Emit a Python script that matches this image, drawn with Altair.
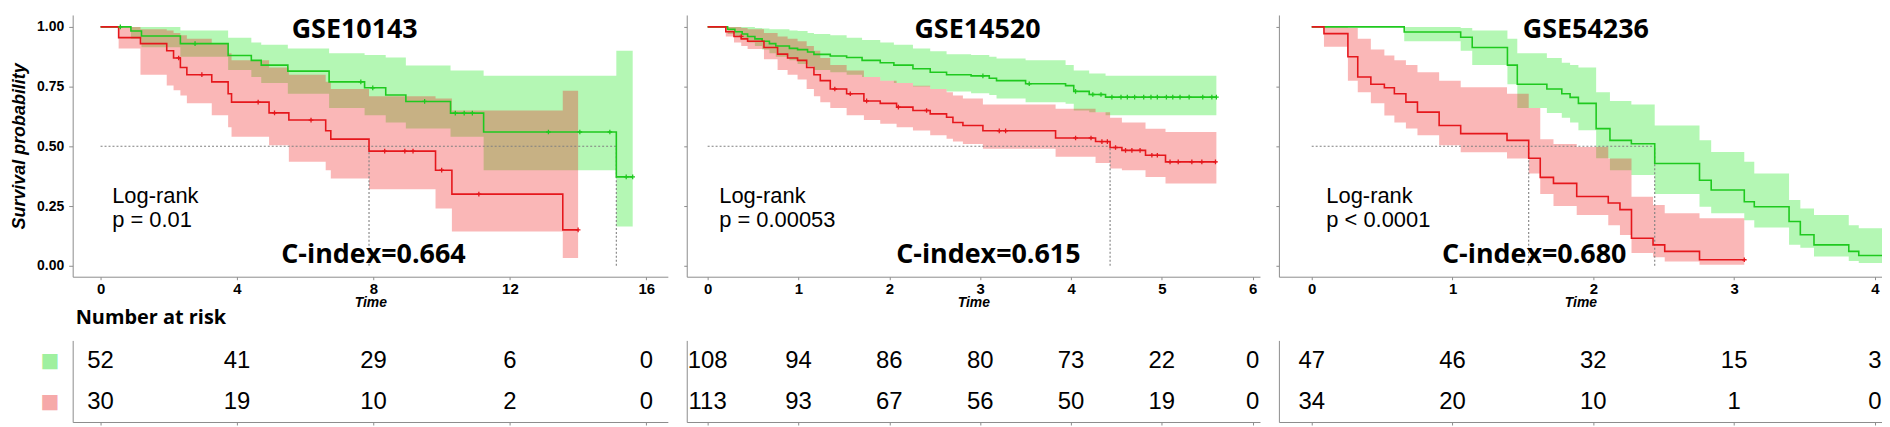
import altair as alt
import pandas as pd

# ---------------- colours ----------------
GREEN_LINE = "#1fc91f"
GREEN_FILL = "#2ee82e"
RED_LINE = "#e5171c"
RED_FILL = "#f02020"
DOT = "#808080"
AXIS = "#8c8c8c"

# ---------------- GSE10143 ----------------
P1_G_T = [0, 0.89, 1.2, 2.34, 3.74, 4.42, 4.71, 5.49, 6.7, 7.74, 8.36, 8.95, 10.26, 11.23, 15.12, 15.6]
P1_G_S = [1.0, 0.983, 0.962, 0.93, 0.88, 0.86, 0.84, 0.815, 0.77, 0.745, 0.715, 0.688, 0.639, 0.56, 0.372, 0.372]
P1_G_UP = [1.0, 1.0, 1.0, 0.985, 0.955, 0.935, 0.925, 0.91, 0.89, 0.882, 0.872, 0.838, 0.817, 0.796, 0.90, 0.90]
P1_G_LO = [1.0, 0.95, 0.915, 0.875, 0.82, 0.79, 0.765, 0.72, 0.66, 0.63, 0.60, 0.575, 0.54, 0.40, 0.164, 0.164]
P1_R_T = [0, 0.53, 1.17, 1.94, 2.14, 2.34, 2.53, 3.26, 3.74, 3.84, 4.94, 5.52, 6.6, 6.75, 7.87, 9.82, 10.3, 13.55, 14.0]
P1_R_S = [1.0, 0.955, 0.93, 0.90, 0.87, 0.83, 0.80, 0.77, 0.72, 0.685, 0.64, 0.61, 0.565, 0.53, 0.48, 0.40, 0.30, 0.15, 0.15]
P1_R_UP = [1.0, 1.0, 0.99, 0.985, 0.975, 0.965, 0.95, 0.93, 0.89, 0.86, 0.83, 0.80, 0.77, 0.74, 0.71, 0.70, 0.65, 0.733, 0.733]
P1_R_LO = [1.0, 0.91, 0.80, 0.755, 0.735, 0.713, 0.68, 0.63, 0.58, 0.54, 0.505, 0.435, 0.40, 0.365, 0.32, 0.24, 0.143, 0.032, 0.032]
P1_G_CX = [0.58, 2.77, 7.63, 7.98, 9.5, 10.4, 10.66, 10.9, 13.13, 14.05, 14.93, 15.41, 15.6]
P1_G_CY = [1.0, 0.93, 0.77, 0.745, 0.688, 0.639, 0.639, 0.639, 0.56, 0.56, 0.56, 0.372, 0.372]
P1_R_CX = [2.29, 2.97, 4.62, 5.1, 6.17, 8.33, 8.92, 9.16, 10.0, 11.09, 14.0]
P1_R_CY = [0.87, 0.80, 0.685, 0.64, 0.61, 0.48, 0.48, 0.48, 0.40, 0.30, 0.15]
P1_MEDIANS = [7.87, 15.12]
P1_TICKS = [0, 4, 8, 12, 16]
P1_RISK_G = [52, 41, 29, 6, 0]
P1_RISK_R = [30, 19, 10, 2, 0]

# ---------------- GSE14520 ----------------
P2_G_T = [0, 0.22, 0.30, 0.38, 0.44, 0.52, 0.60, 0.68, 0.75, 0.90, 0.99, 1.10, 1.17, 1.35, 1.53,
          1.70, 1.90, 2.05, 2.26, 2.45, 2.63, 2.90, 3.10, 3.18, 3.50, 3.94, 4.03, 4.20, 4.38, 5.6]
P2_G_S = [1.0, 0.99, 0.98, 0.97, 0.96, 0.95, 0.94, 0.93, 0.92, 0.91, 0.905, 0.895, 0.885, 0.878, 0.872,
          0.86, 0.85, 0.84, 0.825, 0.81, 0.80, 0.795, 0.785, 0.775, 0.762, 0.754, 0.73, 0.717, 0.706, 0.706]
P2_G_UP = [1.0, 1.0, 1.0, 1.0, 1.0, 0.995, 0.993, 0.99, 0.99, 0.985, 0.983, 0.975, 0.97, 0.965, 0.955,
           0.945, 0.935, 0.925, 0.91, 0.898, 0.886, 0.882, 0.875, 0.868, 0.86, 0.84, 0.817, 0.805, 0.796, 0.796]
P2_G_LO = [1.0, 0.97, 0.96, 0.95, 0.935, 0.92, 0.905, 0.89, 0.875, 0.86, 0.845, 0.835, 0.82, 0.81, 0.80,
           0.79, 0.775, 0.765, 0.75, 0.74, 0.73, 0.722, 0.715, 0.70, 0.685, 0.678, 0.65, 0.643, 0.63, 0.63]
P2_R_T = [0, 0.2, 0.29, 0.37, 0.44, 0.62, 0.77, 0.88, 0.99, 1.09, 1.17, 1.24, 1.35, 1.53, 1.72, 1.9,
          2.08, 2.26, 2.45, 2.63, 2.7, 2.81, 3.03, 3.83, 4.27, 4.43, 4.56, 4.82, 5.04, 5.6]
P2_R_S = [1.0, 0.98, 0.96, 0.95, 0.94, 0.914, 0.886, 0.87, 0.86, 0.83, 0.80, 0.775, 0.74, 0.72, 0.69, 0.68,
          0.664, 0.65, 0.636, 0.622, 0.60, 0.587, 0.565, 0.535, 0.52, 0.495, 0.483, 0.4625, 0.435, 0.435]
P2_R_UP = [1.0, 1.0, 1.0, 0.995, 0.99, 0.975, 0.96, 0.95, 0.94, 0.92, 0.90, 0.87, 0.84, 0.817, 0.79, 0.775,
           0.765, 0.754, 0.74, 0.726, 0.713, 0.70, 0.675, 0.657, 0.643, 0.62, 0.60, 0.574, 0.56, 0.56]
P2_R_LO = [1.0, 0.96, 0.935, 0.92, 0.907, 0.865, 0.82, 0.80, 0.78, 0.74, 0.71, 0.685, 0.66, 0.63, 0.61, 0.594,
           0.58, 0.566, 0.546, 0.532, 0.52, 0.51, 0.49, 0.456, 0.43, 0.407, 0.40, 0.372, 0.344, 0.344]
P2_G_CX = [3.03, 3.54, 4.05, 4.24, 4.33, 4.45, 4.55, 4.62, 4.70, 4.80, 4.88, 4.95, 5.05, 5.12, 5.20, 5.30, 5.45, 5.55, 5.60]
P2_G_CY = [0.795, 0.762, 0.73, 0.717, 0.717, 0.706, 0.706, 0.706, 0.706, 0.706, 0.706, 0.706, 0.706, 0.706,
           0.706, 0.706, 0.706, 0.706, 0.706]
P2_R_CX = [0.37, 1.40, 1.57, 1.75, 2.10, 2.41, 3.21, 3.28, 4.05, 4.22, 4.34, 4.40, 4.49, 4.60, 4.67, 4.76,
           4.89, 4.95, 5.09, 5.18, 5.33, 5.44, 5.59]
P2_R_CY = [0.96, 0.74, 0.72, 0.69, 0.664, 0.65, 0.565, 0.565, 0.535, 0.535, 0.52, 0.52, 0.495, 0.483, 0.483,
           0.483, 0.4625, 0.4625, 0.435, 0.435, 0.435, 0.435, 0.435]
P2_MEDIANS = [4.43]
P2_TICKS = [0, 1, 2, 3, 4, 5, 6]
P2_RISK_G = [108, 94, 86, 80, 73, 22, 0]
P2_RISK_R = [113, 93, 67, 56, 50, 19, 0]

# ---------------- GSE54236 ----------------
P3_G_T = [0, 0.657, 1.058, 1.14, 1.39, 1.46, 1.67, 1.776, 1.835, 1.894, 2.02, 2.118, 2.27, 2.436, 2.754,
          2.837, 3.072, 3.143, 3.39, 3.47, 3.567, 3.814, 3.885, 4.1]
P3_G_S = [1.0, 0.979, 0.957, 0.914, 0.84, 0.76, 0.74, 0.72, 0.705, 0.68, 0.574, 0.525, 0.511, 0.428, 0.358,
          0.317, 0.268, 0.247, 0.185, 0.13, 0.0875, 0.06, 0.043, 0.043]
P3_G_UP = [1.0, 1.0, 0.995, 0.985, 0.95, 0.89, 0.87, 0.85, 0.84, 0.83, 0.726, 0.69, 0.675, 0.5875, 0.525,
           0.476, 0.435, 0.386, 0.275, 0.24, 0.2125, 0.17, 0.157, 0.157]
P3_G_LO = [1.0, 0.94, 0.90, 0.84, 0.76, 0.66, 0.64, 0.62, 0.60, 0.567, 0.45, 0.40, 0.38, 0.30, 0.247,
           0.22, 0.19, 0.16, 0.0875, 0.075, 0.039, 0.02, 0.011, 0.011]
P3_R_T = [0, 0.087, 0.257, 0.327, 0.42, 0.516, 0.587, 0.669, 0.751, 0.905, 1.058, 1.387, 1.541, 1.623,
          1.717, 1.882, 2.106, 2.189, 2.271, 2.424, 2.507, 2.754, 3.072]
P3_R_S = [1.0, 0.972, 0.875, 0.79, 0.76, 0.745, 0.72, 0.685, 0.643, 0.5875, 0.553, 0.525, 0.45, 0.37,
          0.345, 0.29, 0.2625, 0.235, 0.115, 0.0875, 0.06, 0.025, 0.025]
P3_R_UP = [1.0, 1.0, 0.995, 0.95, 0.905, 0.88, 0.86, 0.84, 0.81, 0.775, 0.747, 0.72, 0.66, 0.53,
           0.51, 0.497, 0.449, 0.449, 0.289, 0.254, 0.22, 0.199, 0.199]
P3_R_LO = [1.0, 0.917, 0.775, 0.726, 0.68, 0.629, 0.60, 0.575, 0.546, 0.504, 0.475, 0.449, 0.386, 0.30,
           0.25, 0.2125, 0.17, 0.129, 0.053, 0.035, 0.018, 0.004, 0.004]
P3_G_CX = []
P3_G_CY = []
P3_R_CX = [3.072]
P3_R_CY = [0.025]
P3_MEDIANS = [1.541, 2.436]
P3_TICKS = [0, 1, 2, 3, 4]
P3_RISK_G = [47, 46, 32, 15, 3]
P3_RISK_R = [34, 20, 10, 1, 0]

# ---------------- annotation text ----------------
TITLES = ["GSE10143", "GSE14520", "GSE54236"]
PVALS = ["p = 0.01", "p = 0.00053", "p < 0.0001"]
CINDEX = ["C-index=0.664", "C-index=0.615", "C-index=0.680"]
TITLE_X = [7.45, 2.97, 1.947]
LOGRANK_X = [0.34, 0.128, 0.104]
LOGRANK_Y = [0.293, 0.193]
CINDEX_X = [8.0, 3.09, 1.58]

PANELS = [
    dict(G=(P1_G_T, P1_G_S, P1_G_UP, P1_G_LO), R=(P1_R_T, P1_R_S, P1_R_UP, P1_R_LO),
         GC=(P1_G_CX, P1_G_CY), RC=(P1_R_CX, P1_R_CY), med=P1_MEDIANS, ticks=P1_TICKS,
         rg=P1_RISK_G, rr=P1_RISK_R, xdom=[-0.817, 16.63], w=598),
    dict(G=(P2_G_T, P2_G_S, P2_G_UP, P2_G_LO), R=(P2_R_T, P2_R_S, P2_R_UP, P2_R_LO),
         GC=(P2_G_CX, P2_G_CY), RC=(P2_R_CX, P2_R_CY), med=P2_MEDIANS, ticks=P2_TICKS,
         rg=P2_RISK_G, rr=P2_RISK_R, xdom=[-0.23, 6.08], w=576),
    dict(G=(P3_G_T, P3_G_S, P3_G_UP, P3_G_LO), R=(P3_R_T, P3_R_S, P3_R_UP, P3_R_LO),
         GC=(P3_G_CX, P3_G_CY), RC=(P3_R_CX, P3_R_CY), med=P3_MEDIANS, ticks=P3_TICKS,
         rg=P3_RISK_G, rr=P3_RISK_R, xdom=[-0.233, 4.05], w=606),
]

KM_H = 263
TAB_H = 82


def km_chart(i, p):
    first = i == 0
    xs = alt.Scale(domain=p["xdom"], nice=False, zero=False)
    ys = alt.Scale(domain=[-0.046, 1.05], nice=False, zero=False)
    xax = alt.Axis(values=p["ticks"], format="d", title="Time", grid=False, tickSize=3,
                   domainColor=AXIS, tickColor=AXIS, labelColor="black",
                   labelFont="Liberation Sans", labelFontWeight="bold", labelFontSize=15,
                   labelPadding=2, titleFont="Liberation Sans", titleFontWeight="bold",
                   titleFontStyle="italic", titleFontSize=14, titlePadding=-1, titleColor="black")
    if first:
        yax = alt.Axis(values=[0, 0.25, 0.5, 0.75, 1.0], format=".2f", title="Survival probability",
                       grid=False, tickSize=4, domainColor=AXIS, tickColor=AXIS, labelColor="black",
                       labelFont="Liberation Sans", labelFontWeight="bold", labelFontSize=14,
                       labelPadding=5, titleFont="Liberation Sans", titleFontWeight="bold",
                       titleFontStyle="italic", titleFontSize=18, titlePadding=8, titleColor="black")
    else:
        yax = alt.Axis(values=[0, 0.25, 0.5, 0.75, 1.0], labels=False, title=None, grid=False,
                       tickSize=3, domainColor=AXIS, tickColor=AXIS)

    def X(f):
        return alt.X(f, scale=xs, axis=xax)

    def Y(f):
        return alt.Y(f, scale=ys, axis=yax)

    layers = []
    groups = [("G", GREEN_LINE, GREEN_FILL, 0.36), ("R", RED_LINE, RED_FILL, 0.32)]
    # confidence bands
    for key, lc, fc, op in groups:
        t, s, up, lo = p[key]
        df = pd.DataFrame({"t": t, "s": s, "up": up, "lo": lo})
        layers.append(alt.Chart(df).mark_area(interpolate="step-after", color=fc, opacity=op, clip=True)
                      .encode(x=X("t:Q"), y=Y("lo:Q"), y2="up:Q"))
    # median guide lines
    meds = p["med"]
    seg = pd.DataFrame({"x": [0.0] + meds, "x2": [max(meds)] + meds,
                        "y": [0.5] + [0.0] * len(meds), "y2": [0.5] * (len(meds) + 1)})
    layers.append(alt.Chart(seg).mark_rule(color=DOT, strokeDash=[2, 2], strokeWidth=1.1)
                  .encode(x=X("x:Q"), x2="x2:Q", y=Y("y:Q"), y2="y2:Q"))
    # survival step lines
    for key, lc, fc, op in groups:
        t, s, up, lo = p[key]
        df = pd.DataFrame({"t": t, "s": s})
        layers.append(alt.Chart(df).mark_line(interpolate="step-after", color=lc, strokeWidth=1.6, clip=True)
                      .encode(x=X("t:Q"), y=Y("s:Q")))
    # censor marks
    for key, lc in [("GC", GREEN_LINE), ("RC", RED_LINE)]:
        cx, cy = p[key]
        if len(cx) == 0:
            continue
        df = pd.DataFrame({"t": cx, "s": cy})
        layers.append(alt.Chart(df).mark_point(shape="M-1,0L1,0M0,-1L0,1", size=22, filled=False,
                                               color=lc, strokeWidth=1.3, opacity=1, clip=True)
                      .encode(x=X("t:Q"), y=Y("s:Q")))
    # annotations
    tdf = pd.DataFrame({"x": [TITLE_X[i]], "y": [0.985], "label": [TITLES[i]]})
    layers.append(alt.Chart(tdf).mark_text(font="Open Sans", fontWeight="bold", fontSize=27,
                                           color="black", align="center", baseline="middle")
                  .encode(x=X("x:Q"), y=Y("y:Q"), text="label:N"))
    cdf = pd.DataFrame({"x": [CINDEX_X[i]], "y": [0.046], "label": [CINDEX[i]]})
    layers.append(alt.Chart(cdf).mark_text(font="Open Sans", fontWeight="bold", fontSize=27,
                                           color="black", align="center", baseline="middle")
                  .encode(x=X("x:Q"), y=Y("y:Q"), text="label:N"))
    ldf = pd.DataFrame({"x": [LOGRANK_X[i]] * 2, "y": LOGRANK_Y, "label": ["Log-rank", PVALS[i]]})
    layers.append(alt.Chart(ldf).mark_text(font="Liberation Sans", fontSize=22, color="black",
                                           align="left", baseline="middle")
                  .encode(x=X("x:Q"), y=Y("y:Q"), text="label:N"))
    return alt.layer(*layers).properties(width=p["w"], height=KM_H)


def table_chart(i, p):
    first = i == 0
    xs = alt.Scale(domain=p["xdom"], nice=False, zero=False)
    k = len(p["ticks"])
    df = pd.DataFrame({"t": p["ticks"] * 2, "n": p["rg"] + p["rr"], "grp": ["G"] * k + ["R"] * k})
    xax = alt.Axis(values=p["ticks"], labels=False, title=None, grid=False, tickSize=3,
                   domainColor=AXIS, tickColor=AXIS)
    if first:
        yax = alt.Axis(title=None, ticks=False, domainColor=AXIS, labelExpr="'■'",
                       labelFont="DejaVu Sans", labelFontSize=20, labelPadding=14,
                       labelColor={"condition": {"test": "datum.value == 'G'", "value": "#9ff09f"},
                                   "value": "#f6a9a9"})
    else:
        yax = alt.Axis(title=None, ticks=False, labels=False, domainColor=AXIS)
    ch = alt.Chart(df).mark_text(font="Liberation Sans", fontSize=24, color="black").encode(
        x=alt.X("t:Q", scale=xs, axis=xax),
        y=alt.Y("grp:N", scale=alt.Scale(type="point", domain=["G", "R"], padding=0.5), axis=yax),
        text="n:Q",
    )
    if first:
        return ch.properties(width=p["w"], height=TAB_H,
                             title=alt.TitleParams("Number at risk", anchor="start", frame="group",
                                                   font="Open Sans", fontWeight="bold", fontSize=20,
                                                   color="black", baseline="bottom", offset=14,
                                                   dx=3, dy=22))
    return ch.properties(width=p["w"], height=TAB_H)


kms = [km_chart(i, p) for i, p in enumerate(PANELS)]
tabs = [table_chart(i, p) for i, p in enumerate(PANELS)]

chart = alt.concat(*kms, *tabs, columns=3, spacing={"row": 64, "column": 19},
                   bounds="flush", align="each").properties(
    padding={"left": 2, "top": 6, "right": 0, "bottom": 0},
    background="white",
).configure_view(stroke=None)

chart.save("out.html", embed_options={"renderer": "svg", "actions": False})
